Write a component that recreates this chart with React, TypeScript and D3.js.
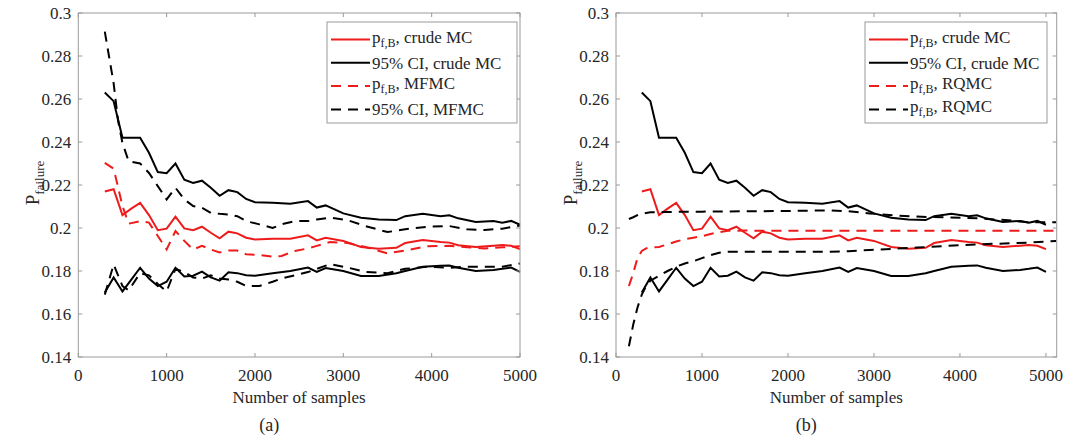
import * as d3 from 'd3';

// crude Monte Carlo (same curves in both panels)
const crudeX = [300, 400, 500, 600, 700, 800, 900, 1000, 1100, 1200, 1300, 1400, 1500, 1600, 1700, 1800, 1900, 2000, 2200, 2400, 2600, 2700, 2800, 3000, 3200, 3400, 3600, 3700, 3900, 4100, 4200, 4300, 4500, 4700, 4800, 4900, 5000];
const crudeMean = [0.217, 0.218, 0.206, 0.209, 0.2117, 0.206, 0.199, 0.1997, 0.2053, 0.1998, 0.199, 0.2006, 0.1978, 0.1952, 0.1983, 0.1975, 0.1955, 0.1947, 0.195, 0.195, 0.1966, 0.1942, 0.1955, 0.194, 0.1912, 0.1904, 0.1908, 0.193, 0.1944, 0.1935, 0.1932, 0.192, 0.1912, 0.1918, 0.1921, 0.1917, 0.1902];
const crudeHi = [0.263, 0.259, 0.242, 0.242, 0.242, 0.235, 0.226, 0.2255, 0.23, 0.2225, 0.221, 0.222, 0.2187, 0.215, 0.2176, 0.2167, 0.2135, 0.212, 0.2118, 0.2113, 0.2125, 0.2095, 0.2105, 0.2068, 0.2048, 0.204, 0.2037, 0.2055, 0.2066, 0.2055, 0.2059, 0.2045, 0.2028, 0.2033, 0.2025, 0.2033, 0.2015];
const crudeLo = [0.170, 0.177, 0.1705, 0.176, 0.1815, 0.1765, 0.173, 0.175, 0.1815, 0.1775, 0.1778, 0.1797, 0.177, 0.1755, 0.1794, 0.179, 0.178, 0.1778, 0.179, 0.18, 0.1816, 0.1796, 0.1814, 0.180, 0.1777, 0.1777, 0.179, 0.18, 0.182, 0.1824, 0.1826, 0.1815, 0.18, 0.1805, 0.181, 0.1816, 0.1796];

// multi-fidelity MC, panel (a)
const mfmcX = [300, 400, 450, 500, 570, 700, 800, 900, 1000, 1100, 1200, 1300, 1400, 1500, 1600, 1700, 1800, 1900, 2050, 2200, 2300, 2450, 2600, 2700, 2850, 3050, 3250, 3500, 3700, 3950, 4200, 4400, 4600, 4800, 5000];
const mfmcMean = [0.2303, 0.2276, 0.219, 0.2102, 0.202, 0.2032, 0.2025, 0.1963, 0.19, 0.1986, 0.194, 0.19, 0.1917, 0.19, 0.1886, 0.1895, 0.1895, 0.1878, 0.1875, 0.1867, 0.187, 0.1893, 0.1905, 0.1917, 0.1935, 0.193, 0.1912, 0.1882, 0.1895, 0.1915, 0.1917, 0.191, 0.1905, 0.191, 0.1915];
const mfmcHi = [0.2913, 0.2673, 0.25, 0.2395, 0.231, 0.23, 0.2256, 0.2195, 0.2133, 0.2187, 0.2133, 0.2102, 0.2094, 0.207, 0.2066, 0.2063, 0.2055, 0.2032, 0.2017, 0.2, 0.2017, 0.2032, 0.2032, 0.204, 0.2048, 0.2036, 0.2009, 0.1981, 0.1994, 0.2006, 0.2009, 0.1994, 0.1991, 0.1997, 0.2012];
const mfmcLo = [0.169, 0.183, 0.178, 0.173, 0.171, 0.179, 0.178, 0.174, 0.1705, 0.181, 0.1795, 0.177, 0.1765, 0.178, 0.1765, 0.176, 0.175, 0.173, 0.173, 0.175, 0.1765, 0.178, 0.1795, 0.181, 0.1832, 0.1816, 0.1796, 0.179, 0.181, 0.182, 0.1815, 0.182, 0.182, 0.182, 0.1835];

// randomized quasi-MC, panel (b)
const rqmcX = [150, 200, 250, 300, 350, 400, 500, 600, 700, 800, 900, 1000, 1100, 1200, 1300, 1500, 2000, 2500, 2700, 2950, 3250, 3500, 3850, 4200, 4600, 4800, 5120];
const rqmcMean = [0.173, 0.179, 0.186, 0.1893, 0.1905, 0.191, 0.1912, 0.1924, 0.1937, 0.1948, 0.1955, 0.1962, 0.1972, 0.1981, 0.1987, 0.1988, 0.1987, 0.1987, 0.1987, 0.1987, 0.1987, 0.1987, 0.1987, 0.1987, 0.1987, 0.1987, 0.1987];
const rqmcHi = [0.2042, 0.205, 0.206, 0.2066, 0.207, 0.2073, 0.2074, 0.2075, 0.2075, 0.2076, 0.2076, 0.2076, 0.2077, 0.2077, 0.2077, 0.2078, 0.2079, 0.2082, 0.2078, 0.2068, 0.2058, 0.2053, 0.2049, 0.2045, 0.2035, 0.2026, 0.2027];
const rqmcLo = [0.145, 0.155, 0.163, 0.169, 0.173, 0.1755, 0.1778, 0.18, 0.182, 0.1835, 0.1845, 0.186, 0.1874, 0.1885, 0.189, 0.189, 0.189, 0.1889, 0.1892, 0.1898, 0.1904, 0.1909, 0.1917, 0.1924, 0.1929, 0.1932, 0.194];

const xTicks = [0, 1000, 2000, 3000, 4000, 5000];
const yTicks = [0.14, 0.16, 0.18, 0.2, 0.22, 0.24, 0.26, 0.28, 0.3];

const FONT = '"Liberation Serif", "Times New Roman", serif';
const RED = '#ee1b1b';
const INK = '#262626';
const AXIS = '#9a9a9a';
const DASH = '10 7';

function Panel(props) {
    const { left, right, xMax, series, legend, tag } = props;
    const top = 13, bottom = 357;

    const x = d3.scaleLinear().domain([0, xMax]).range([left, right]);
    const y = d3.scaleLinear().domain([0.14, 0.3]).range([bottom, top]);

    const line = (xs, ys) =>
        d3.line().x((d, i) => x(xs[i])).y(d => y(d))(ys);

    const mid = (left + right) / 2;
    const tl = 4;

    return (
        <g fontFamily={FONT} fill={INK}>
            {/* plot lines */}
            {series.map((s, i) => (
                <path key={i} d={line(s.x, s.y)} fill="none" stroke={s.color}
                    strokeWidth={2} strokeDasharray={s.dashed ? DASH : null} />
            ))}

            {/* box + ticks */}
            <rect x={left} y={top} width={right - left} height={bottom - top}
                fill="none" stroke={AXIS} strokeWidth={1} />
            {xTicks.map(t => (
                <g key={'x' + t}>
                    <line x1={x(t)} x2={x(t)} y1={bottom} y2={bottom - tl} stroke={AXIS} />
                    <line x1={x(t)} x2={x(t)} y1={top} y2={top + tl} stroke={AXIS} />
                    <text x={x(t)} y={381} textAnchor="middle" fontSize={17}>{t}</text>
                </g>
            ))}
            {yTicks.map(t => (
                <g key={'y' + t}>
                    <line x1={left} x2={left + tl} y1={y(t)} y2={y(t)} stroke={AXIS} />
                    <line x1={right} x2={right - tl} y1={y(t)} y2={y(t)} stroke={AXIS} />
                    <text x={left - 7} y={y(t)} dy="0.35em" textAnchor="end" fontSize={17}>{String(+t.toFixed(2))}</text>
                </g>
            ))}

            {/* axis labels */}
            <text x={mid} y={403} textAnchor="middle" fontSize={17}>Number of samples</text>
            <text x={mid - 30} y={431} textAnchor="middle" fontSize={18}>{tag}</text>
            <text transform={`translate(${left - 39},183) rotate(-90)`} textAnchor="middle" fontSize={19}>
                P<tspan fontSize={13} dy={5}>failure</tspan>
            </text>

            {/* legend */}
            <rect x={legend.x0} y={22} width={legend.x1 - legend.x0} height={101}
                fill="#fff" stroke={AXIS} strokeWidth={1} />
            {legend.items.map((it, i) => {
                const cy = 39.5 + i * 23.3;
                return (
                    <g key={i}>
                        <line x1={legend.x0 + 4} x2={legend.x0 + 43} y1={cy} y2={cy}
                            stroke={it.color} strokeWidth={2} strokeDasharray={it.dashed ? DASH : null} />
                        {it.sub ? (
                            <text x={legend.x0 + 45} y={cy + 3} fontSize={17}>
                                p<tspan fontSize={12} dy={4}>f,B</tspan><tspan dy={-4}>{it.text}</tspan>
                            </text>
                        ) : (
                            <text x={legend.x0 + 45} y={cy + 6} fontSize={17}>{it.text}</text>
                        )}
                    </g>
                );
            })}
        </g>
    );
}

export default function App() {
    const crude = [
        { x: crudeX, y: crudeMean, color: RED, dashed: false },
        { x: crudeX, y: crudeHi, color: '#000', dashed: false },
        { x: crudeX, y: crudeLo, color: '#000', dashed: false },
    ];
    const seriesA = [
        ...crude,
        { x: mfmcX, y: mfmcMean, color: RED, dashed: true },
        { x: mfmcX, y: mfmcHi, color: '#000', dashed: true },
        { x: mfmcX, y: mfmcLo, color: '#000', dashed: true },
    ];
    const seriesB = [
        ...crude,
        { x: rqmcX, y: rqmcMean, color: RED, dashed: true },
        { x: rqmcX, y: rqmcHi, color: '#000', dashed: true },
        { x: rqmcX, y: rqmcLo, color: '#000', dashed: true },
    ];
    const legendA = {
        x0: 327, x1: 517,
        items: [
            { sub: true, text: ', crude MC', color: RED, dashed: false },
            { sub: false, text: '95% CI, crude MC', color: '#000', dashed: false },
            { sub: true, text: ', MFMC', color: RED, dashed: true },
            { sub: false, text: '95% CI, MFMC', color: '#000', dashed: true },
        ],
    };
    const legendB = {
        x0: 865, x1: 1047,
        items: [
            { sub: true, text: ', crude MC', color: RED, dashed: false },
            { sub: false, text: '95% CI, crude MC', color: '#000', dashed: false },
            { sub: true, text: ', RQMC', color: RED, dashed: true },
            { sub: true, text: ', RQMC', color: '#000', dashed: true },
        ],
    };

    return (
        <svg width={1071} height={439} style={{ position: 'absolute', left: 0, top: 0, background: '#fff' }}>
            <Panel left={78.3} right={520} xMax={5000} series={seriesA} legend={legendA} tag="(a)" />
            <Panel left={616} right={1056.7} xMax={5125} series={seriesB} legend={legendB} tag="(b)" />
        </svg>
    );
}
